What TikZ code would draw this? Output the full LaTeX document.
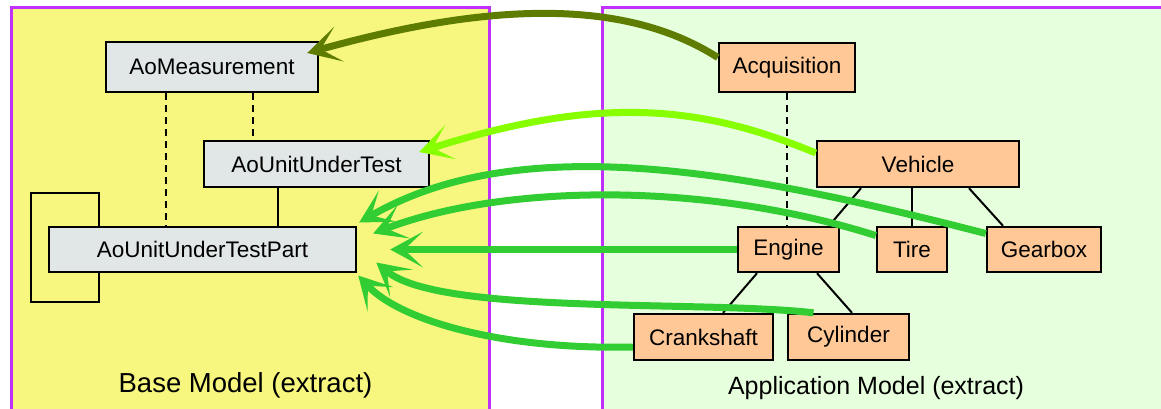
\documentclass[tikz,border=0pt]{standalone}
\usepackage{fontspec}
\setmainfont{Liberation Sans}
\usetikzlibrary{arrows.meta,calc}

\definecolor{baseFill}{RGB}{247,247,127}
\definecolor{appFill}{RGB}{230,255,220}
\definecolor{frameLine}{RGB}{192,48,255}
\definecolor{baseBox}{RGB}{225,230,230}
\definecolor{appBox}{RGB}{255,200,150}
\definecolor{olive}{RGB}{94,125,0}
\definecolor{lime}{RGB}{136,255,0}
\definecolor{leaf}{RGB}{50,205,50}

\tikzset{
  box/.style={draw=black, line width=2.4pt, inner sep=0pt,
              font=\fontsize{22.5}{25}\selectfont},
  basebox/.style={box, fill=baseBox},
  appbox/.style={box, fill=appBox},
  link/.style={line width=2pt},
  dlink/.style={line width=2pt, dash pattern=on 7pt off 5pt},
  flow/.style={line width=7pt,
               -{Stealth[length=33pt,width=36pt,inset=19pt,line width=0pt]}}
}

\begin{document}
\begin{tikzpicture}[x=1pt,y=-1pt]
\useasboundingbox (0,0) rectangle (1161,408);

% panels
\fill[baseFill] (11.5,7.5) rectangle (489.5,412);
\fill[appFill] (602,7.5) rectangle (1166,412);
\draw[frameLine, line width=3pt] (11.5,412) -- (11.5,7.5) -- (489.5,7.5) -- (489.5,412);
\draw[frameLine, line width=3pt] (602,412) -- (602,7.5) -- (1166,7.5);

% base model classes
\node[basebox, minimum width=212pt, minimum height=50pt] (meas) at (212,67) {AoMeasurement};
\node[basebox, minimum width=225pt, minimum height=46pt] (uut) at (316.5,164) {AoUnitUnderTest};
\node[basebox, minimum width=307pt, minimum height=45pt] (part) at (202.5,249.5) {AoUnitUnderTestPart};

% application model elements
\node[appbox, minimum width=136pt, minimum height=49pt] (acq) at (787,67.5) {Acquisition};
\node[appbox, minimum width=202pt, minimum height=46pt] (veh) at (918,164) {Vehicle};
\node[appbox, minimum width=101pt, minimum height=45pt] (eng) at (788.5,249.5) {Engine};
\node[appbox, minimum width=70pt, minimum height=45pt] (tire) at (912,249.5) {Tire};
\node[appbox, minimum width=114pt, minimum height=45pt] (gear) at (1044,249.5) {Gearbox};
\node[appbox, minimum width=139pt, minimum height=46pt] (crank) at (703.5,337) {Crankshaft};
\node[appbox, minimum width=121pt, minimum height=46pt] (cyl) at (848.5,337) {Cylinder};

% base model relations
\path ($(meas.south)+(-46,0)$) coordinate (m1)
      ($(meas.south)+(41,0)$) coordinate (m2)
      ($(uut.south)+(-38.5,0)$) coordinate (u1)
      ($(part.north west)+(51,0)$) coordinate (p1)
      ($(part.south west)+(51,0)$) coordinate (p2);
\draw[dlink] (m1) -- (m1 |- part.north);
\draw[dlink] (m2) -- (m2 |- uut.north);
\draw[link] (u1) -- (u1 |- part.north);
\draw[link] (p1) -- ++(0,-33) -- ++(-68,0) -- ++(0,109) -- ++(68,0) -- (p2);

% application model relations
\draw[dlink] (acq.south) -- (acq.south |- eng.north);
\draw[link] ($(veh.south)+(-57,0)$) -- ($(eng.north)+(40.5,0)$);
\draw[link] (tire.north) -- (tire.north |- veh.south);
\draw[link] ($(veh.south)+(51,0)$) -- ($(gear.north)+(-41,0)$);
\draw[link] ($(eng.south)+(-31.5,0)$) -- ($(crank.north)+(19.5,0)$);
\draw[link] ($(eng.south)+(28.5,0)$) -- ($(cyl.north)+(3.5,0)$);

% mapping of application elements onto base classes
\draw[flow, olive] ($(acq.west)+(0,-10)$) .. controls (620,-5) and (480,5) .. ($(meas.east)+(-12,-14)$);
\draw[flow, lime] ($(veh.west)+(0,-11)$) .. controls (700,105) and (600,95) .. ($(uut.east)+(-11,-12)$);
\draw[flow, leaf] ($(gear.west)+(0,-16)$) .. controls (740,170) and (520,130) .. ($(part.east)+(2,-27)$);
\draw[flow, leaf] ($(tire.west)+(0,-14)$) .. controls (700,180) and (500,185) .. ($(part.east)+(16,-16)$);
\draw[flow, leaf] (eng.west) -- ($(part.east)+(33,0)$);
\draw[flow, leaf] ($(cyl.north)+(-35,0)$) .. controls (700,300) and (440,315) .. ($(part.east)+(19,13)$);
\draw[flow, leaf] ($(crank.west)+(0,10)$) .. controls (500,350) and (400,320) .. ($(part.east)+(1,26)$);

% panel captions
\node[font=\fontsize{27.5}{30}\selectfont] (basecap) at (245.5,385) {Base Model (extract)};
\node[font=\fontsize{25}{28}\selectfont] (appcap) at (876,388) {Application Model (extract)};
\end{tikzpicture}
\end{document}
